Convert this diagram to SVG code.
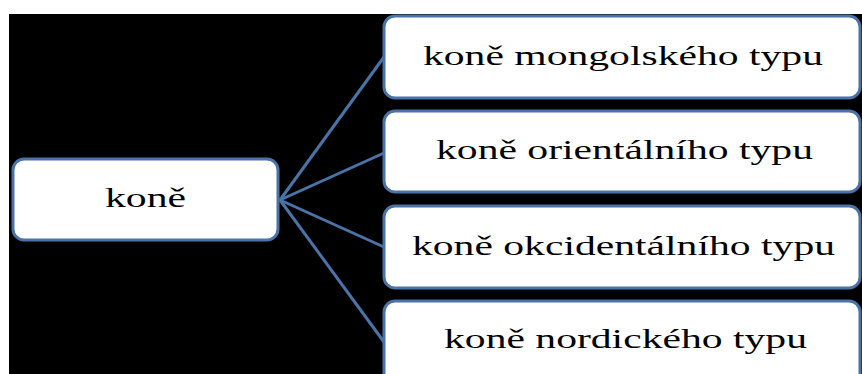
<svg xmlns="http://www.w3.org/2000/svg" width="862" height="374" viewBox="0 0 862 374">
<style>
.box{fill:#ffffff;stroke:#4a73a8;stroke-width:3}
.lbl{font-family:"Liberation Serif","Times New Roman",serif;font-size:28px;fill:#000000}
.conn{stroke:#4a73a8;stroke-width:3;fill:none}
</style>
<rect x="0" y="0" width="862" height="374" fill="#ffffff"/>
<rect x="9" y="14" width="853" height="360" fill="#000000"/>
<g id="connectors">
<line class="conn" x1="280" y1="200" x2="384" y2="57"/>
<line class="conn" x1="280" y1="200" x2="384" y2="153"/>
<line class="conn" x1="280" y1="200" x2="384" y2="247"/>
<line class="conn" x1="280" y1="200" x2="384" y2="342"/>
</g>
<g id="node-kone">
<rect class="box" x="13" y="159" width="265" height="81" rx="11"/>
<text class="lbl" x="105" y="207" textLength="81" lengthAdjust="spacingAndGlyphs">koně</text>
</g>
<g id="node-mongolskeho">
<rect class="box" x="384" y="16" width="476" height="82" rx="11"/>
<text class="lbl" x="423" y="65" textLength="400" lengthAdjust="spacingAndGlyphs">koně mongolského typu</text>
</g>
<g id="node-orientalniho">
<rect class="box" x="384" y="111" width="476" height="81" rx="11"/>
<text class="lbl" x="436" y="159" textLength="377" lengthAdjust="spacingAndGlyphs">koně orientálního typu</text>
</g>
<g id="node-okcidentalniho">
<rect class="box" x="384" y="206" width="476" height="82" rx="11"/>
<text class="lbl" x="412" y="255" textLength="423" lengthAdjust="spacingAndGlyphs">koně okcidentálního typu</text>
</g>
<g id="node-nordickeho">
<rect class="box" x="384" y="301" width="476" height="90" rx="11"/>
<text class="lbl" x="444" y="348" textLength="363" lengthAdjust="spacingAndGlyphs">koně nordického typu</text>
</g>
</svg>
